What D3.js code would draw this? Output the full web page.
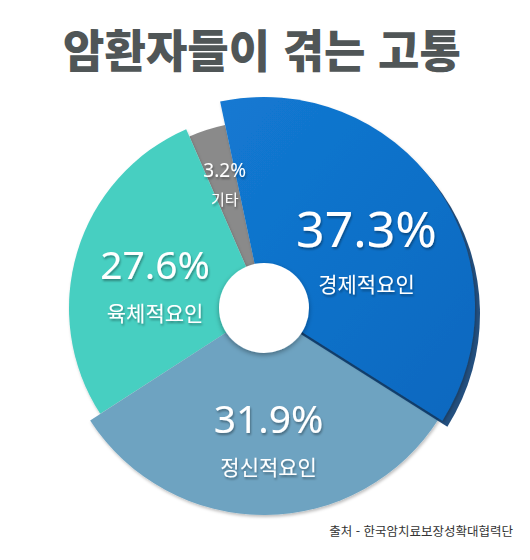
<!doctype html>
<html lang="ko">
<head>
    <meta charset="utf-8">
    <title>암환자들이 겪는 고통</title>
    <script src="https://cdnjs.cloudflare.com/ajax/libs/d3/7.8.5/d3.min.js"></script>
    <style>
        body { margin: 0; background: #ffffff; }
        svg { display: block; font-family: 'Noto Sans CJK KR', 'Noto Sans', sans-serif; }
    </style>
</head>
<body>
    <svg id="chart" width="530" height="560"></svg>
    <script>
        // data
        const categories = ["경제적요인", "정신적요인", "육체적요인", "기타"];
        const values = [37.3, 31.9, 27.6, 3.2];
        const title = "암환자들이 겪는 고통";
        const source = "출처 - 한국암치료보장성확대협력단";

        const svg = d3.select("#chart");
        const cx = 264, cy = 308;

        // per-category look
        const color = d3.scaleOrdinal(categories, ["#0e71c9", "#6ea3c1", "#47cfc1", "#8a8a8a"]);
        const outerR = d3.scaleOrdinal(categories, [211, 207, 195, 187]);
        const pctSize = d3.scaleOrdinal(categories, [50, 39, 39, 19]);
        const nameSize = d3.scaleOrdinal(categories, [21, 21, 21, 15]);
        const labelR = d3.scaleOrdinal(categories, [120, 120, 118, 142]);

        const defs = svg.append("defs");
        const sh = defs.append("filter").attr("id", "sliceShadow")
            .attr("x", "-20%").attr("y", "-20%").attr("width", "140%").attr("height", "140%");
        sh.append("feDropShadow").attr("dx", 1).attr("dy", 2).attr("stdDeviation", 1.5)
            .attr("flood-color", "#000").attr("flood-opacity", 0.25);
        const ts = defs.append("filter").attr("id", "textShadow");
        ts.append("feDropShadow").attr("dx", 1).attr("dy", 2).attr("stdDeviation", 1.2)
            .attr("flood-color", "#000").attr("flood-opacity", 0.35);
        const hs = defs.append("filter").attr("id", "holeShadow")
            .attr("x", "-30%").attr("y", "-30%").attr("width", "160%").attr("height", "160%");
        hs.append("feDropShadow").attr("dx", 0).attr("dy", 2).attr("stdDeviation", 2.5)
            .attr("flood-color", "#000").attr("flood-opacity", 0.35);
        const bg = defs.append("linearGradient").attr("id", "blueGrad")
            .attr("x1", 0).attr("y1", 0).attr("x2", 1).attr("y2", 1);
        bg.append("stop").attr("offset", "0%").attr("stop-color", "#1379d2");
        bg.append("stop").attr("offset", "100%").attr("stop-color", "#0a68bf");

        // title
        svg.append("text")
            .attr("x", 262).attr("y", 68)
            .attr("text-anchor", "middle")
            .attr("font-size", 45).attr("font-weight", 900)
            .attr("fill", "#505657")
            .text(title);

        const pie = d3.pie().sort(null)
            .startAngle(-12 * Math.PI / 180)
            .endAngle((360 - 12) * Math.PI / 180);
        const arcs = pie(values).map((d, i) => Object.assign(d, { name: categories[i] }));

        const arc = d3.arc().innerRadius(0).outerRadius(d => outerR(d.name));
        const g = svg.append("g").attr("transform", `translate(${cx},${cy})`);

        // draw back to front: blue last so its shadow falls on the others
        const order = [3, 2, 1, 0].map(i => arcs[i]);
        order.forEach(d => {
            if (d.name === categories[0]) {
                g.append("path").attr("d", arc(d))
                    .attr("transform", "translate(5,6)")
                    .attr("fill", "#0b3c70").attr("opacity", 0.9);
            }
            g.append("path").attr("d", arc(d))
                .attr("fill", d.name === categories[0] ? "url(#blueGrad)" : color(d.name))
                .attr("filter", "url(#sliceShadow)");
        });

        // centre hole
        g.append("circle").attr("r", 45).attr("fill", "#ffffff").attr("filter", "url(#holeShadow)");

        // labels: percentage above, category name below
        const labels = g.selectAll("g.label").data(arcs).join("g")
            .attr("class", "label")
            .attr("filter", "url(#textShadow)")
            .attr("transform", d => {
                const r = labelR(d.name);
                const c = d3.arc().innerRadius(r).outerRadius(r).centroid(d);
                return `translate(${c[0] + 4},${c[1] + 8})`;
            });
        labels.append("text")
            .attr("text-anchor", "middle")
            .attr("y", d => pctSize(d.name) * 0.2 - nameSize(d.name) * 0.5)
            .attr("font-family", "'Noto Sans', sans-serif")
            .attr("font-size", d => pctSize(d.name))
            .attr("fill", "#ffffff")
            .text(d => d.data.toFixed(1) + "%");
        labels.append("text")
            .attr("text-anchor", "middle")
            .attr("y", d => pctSize(d.name) * 0.5 + nameSize(d.name) * 0.95)
            .attr("font-size", d => nameSize(d.name))
            .attr("fill", "#ffffff")
            .text(d => d.name);

        // source
        svg.append("text")
            .attr("x", 513).attr("y", 536)
            .attr("text-anchor", "end")
            .attr("font-size", 12.5)
            .attr("fill", "#333333")
            .text(source);
    </script>
</body>
</html>
